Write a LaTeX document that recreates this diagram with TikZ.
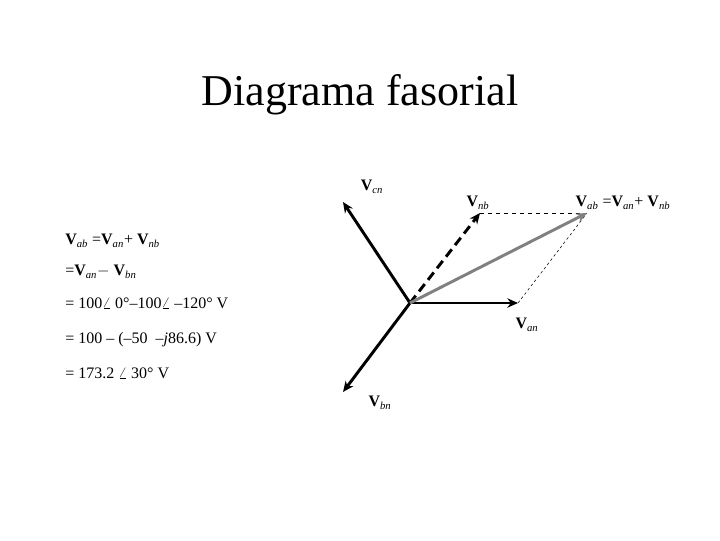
\documentclass[tikz,border=0pt]{standalone}
\usepackage{fontspec}
\setmainfont{Liberation Serif}
\usetikzlibrary{arrows.meta}
\newcommand{\VV}[1]{\textbf{V}\textsubscript{\textit{#1}}}
\begin{document}
\begin{tikzpicture}[x=0.75pt,y=-0.75pt,
  vec/.style={line width=2.2pt,-{Stealth[length=8pt,width=7pt]}},
  lbl/.style={font=\fontsize{12}{14}\selectfont,inner sep=0pt},
  eq/.style={font=\fontsize{12}{14}\selectfont,inner sep=0pt,anchor=west}]
\useasboundingbox (0,0) rectangle (720,540);
\node[font=\fontsize{33}{38}\selectfont] (t) at (360,95) {Diagrama fasorial};
\coordinate (o) at (410,303);
\coordinate (an) at (518,303);
\coordinate (cn) at (343,202);
\coordinate (bn) at (343,392);
\coordinate (nb) at (480,213);
\coordinate (ab) at (587,213);
\draw[dashed] (nb) -- (ab);
\draw[dash pattern=on 2pt off 2pt,line width=0.4pt] (an) -- (ab);
\draw[vec] (o) -- (an);
\draw[vec] (o) -- (cn);
\draw[vec] (o) -- (bn);
\draw[vec,dash pattern=on 7pt off 4pt,-{Stealth[length=8pt,width=7pt]}] (o) -- (nb);
\draw[vec,gray] (o) -- (ab);
\node[lbl] (lcn) at (372,187) {\VV{cn}};
\node[lbl] (lnb) at (478,203) {\VV{nb}};
\node[lbl] (lab) at (623,203) {\VV{ab} =\VV{an}+ \VV{nb}};
\node[lbl] (lan) at (527,325) {\VV{an}};
\node[lbl] (lbn) at (380,403) {\VV{bn}};
\node[eq] (e1) at (65,241) {\VV{ab} =\VV{an}+ \VV{nb}};
\node[eq] (e2) at (65,272) {=\VV{an}$-$ \VV{bn}};
\node[eq] (e3) at (65,303) {= 100$\angle$ 0°–100$\angle$ –120° V};
\node[eq] (e4) at (65,340) {= 100 – (–50 \ –\textit{j}86.6) V};
\node[eq] (e5) at (65,373) {= 173.2 $\angle$ 30° V};
\end{tikzpicture}
\end{document}
